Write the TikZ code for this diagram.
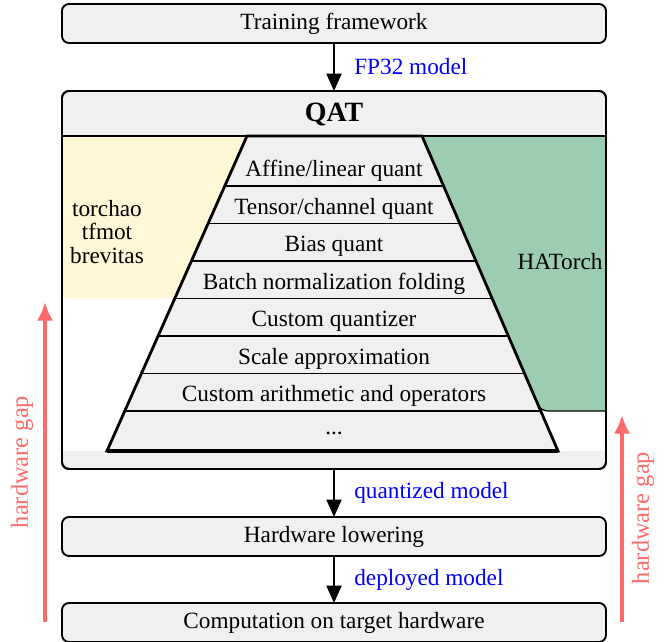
\documentclass[tikz,border=0pt]{standalone}
\usepackage{fontspec}
\setmainfont{Liberation Serif}
\usetikzlibrary{arrows.meta,positioning}
\definecolor{boxgray}{HTML}{F0F0F0}
\definecolor{libyellow}{HTML}{FFF8D6}
\definecolor{hagreen}{HTML}{9CCDB1}
\definecolor{gapred}{HTML}{FF6B6B}
\begin{document}
\begin{tikzpicture}[x=0.43pt,y=-0.43pt,
		stage/.style={draw,rounded corners=3pt,fill=boxgray,line width=0.8pt,minimum width=544*0.43pt,minimum height=39*0.43pt,inner sep=0pt,outer sep=0pt},
		flow/.style={-{Triangle[length=7.5pt,width=6.5pt]},line width=0.8pt},
		note/.style={blue,right,xshift=5pt},
		gap/.style={gapred,line width=1.5pt,-{Latex[length=8pt,width=7pt]}},
		gaplabel/.style={gapred,rotate=90,font=\fontsize{10.5}{12}\selectfont},
		layer/.style={line width=1.2pt}]
		\useasboundingbox (0,0) rectangle (672,642);
		\node[stage] (train) at (334,23.5) {Training framework};
		\node[stage,minimum height=378*0.43pt] (qat) at (334,280) {};
		\node[stage] (lower) at (334,536.5) {Hardware lowering};
		\node[stage] (comp) at (334,622.5) {Computation on target hardware};
		
		\fill[white] (63,136) rectangle (605,451);
		\fill[libyellow] (63,136) -- (247,136) -- (174.8,298.5) -- (63,298.5) -- cycle;
		\fill[hagreen] (422,136) -- (540.7,411) -- (606,411) -- (606,136) -- cycle;
		\draw[line width=0.5pt] (531,390) [rounded corners=3pt] -- (540.7,411) -- (606,411);
		\draw[line width=0.8pt,rounded corners=3pt] (qat.south west) rectangle (qat.north east);
		\draw[line width=0.8pt] (62,136) -- (606,136);
		\filldraw[fill=boxgray,layer] (247,136) -- (422,136) -- (558,451) -- (107,451) -- cycle;
		\draw[line width=1.5pt] (107,451) -- (558,451);
		\foreach \y in {186,223.5,261,298.5,336,373.5,411}
			\draw[line width=0.8pt] ({247-(\y-136)/315*140},\y) -- ({422+(\y-136)/315*136},\y);
		\foreach \t [count=\i] in {Affine/linear quant,Tensor/channel quant,Bias quant,Batch normalization folding,Custom quantizer,Scale approximation,Custom arithmetic and operators}
			\node (layer\i) at (334,133.5+37.5*\i) {\t};
		\node (layer8) at (334,433.5) {...};
		
		\node[font=\fontsize{12}{14}\selectfont\bfseries] (qattitle) at (334,115) {QAT};
		\node[align=center,font=\fontsize{10}{10.2}\selectfont] (libs) at (107,232) {torchao\\tfmot\\brevitas};
		\node (hatorch) at (560,262) {HATorch};
		
		\draw[flow] (train) -- node[note] {FP32 model} (qat);
		\draw[flow] (qat) -- node[note] {quantized model} (lower);
		\draw[flow] (lower) -- node[note] {deployed model} (comp);
		
		\coordinate (gapL0) at (45,622);
		\coordinate (gapL1) at (45,302);
		\coordinate (gapR0) at (622,622);
		\coordinate (gapR1) at (622,415);
		\draw[gap] (gapL0) -- (gapL1);
		\draw[gap] (gapR0) -- (gapR1);
		\node[gaplabel] (gaplabelL) at (22,462) {hardware gap};
		\node[gaplabel] (gaplabelR) at (643,518) {hardware gap};
\end{tikzpicture}
\end{document}
